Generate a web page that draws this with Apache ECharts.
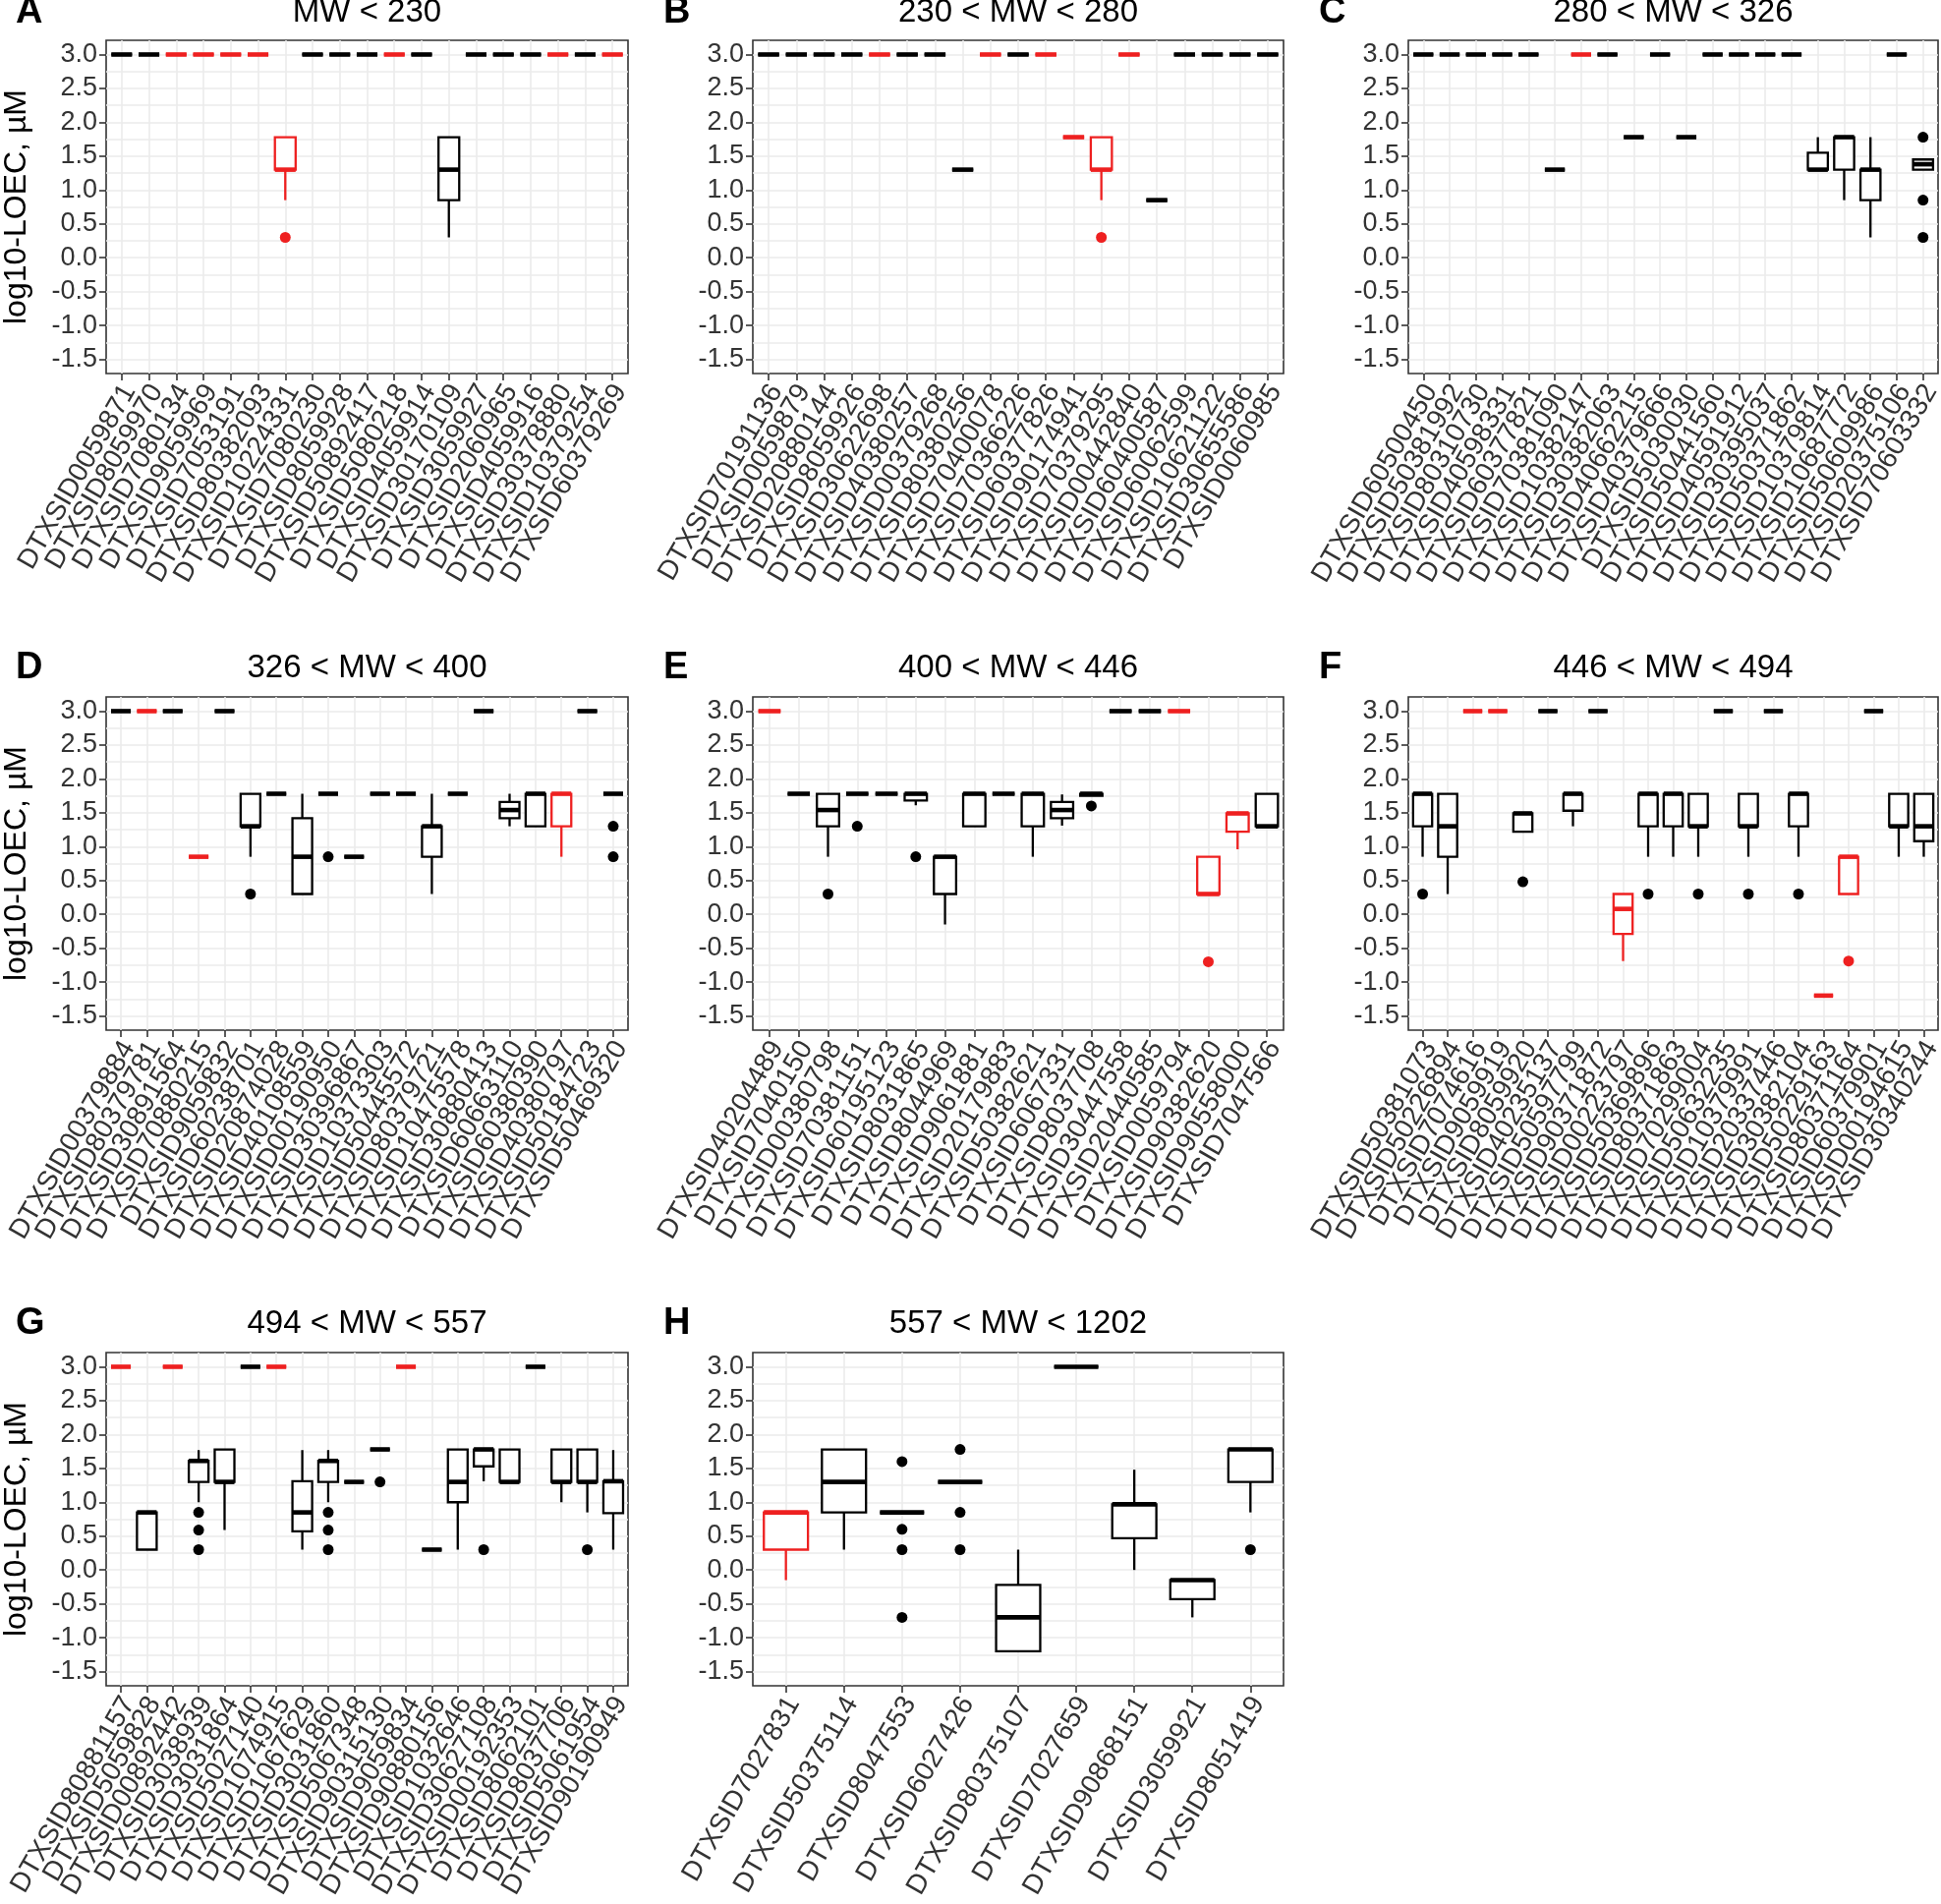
<!DOCTYPE html>
<html><head><meta charset="utf-8">
<script src="https://cdn.jsdelivr.net/npm/echarts@6/dist/echarts.min.js"></script>
<style>html,body{margin:0;padding:0;background:#fff}#c{width:1975px;height:1937px}</style>
</head><body><div id="c"></div>
<script>
// ---------- DATA ----------
// boxes: [lowerWhisker, Q1, median, Q3, upperWhisker]; red: 1 = red box; outliers: [categoryNo, value, red]
const labelsA = ["DTXSID0059871","DTXSID8059970","DTXSID7080134","DTXSID9059969","DTXSID7053191","DTXSID80382093","DTXSID10224331","DTXSID7080230","DTXSID8059928","DTXSID50892417","DTXSID5080218","DTXSID4059914","DTXSID30170109","DTXSID3059927","DTXSID2060965","DTXSID4059916","DTXSID30378880","DTXSID10379254","DTXSID60379269"];
const boxesA = [[3,3,3,3,3],[3,3,3,3,3],[3,3,3,3,3],[3,3,3,3,3],[3,3,3,3,3],[3,3,3,3,3],[0.85,1.3,1.3,1.78,1.78],[3,3,3,3,3],[3,3,3,3,3],[3,3,3,3,3],[3,3,3,3,3],[3,3,3,3,3],[0.3,0.85,1.3,1.78,1.78],[3,3,3,3,3],[3,3,3,3,3],[3,3,3,3,3],[3,3,3,3,3],[3,3,3,3,3],[3,3,3,3,3]];
const redA = [0,0,1,1,1,1,1,0,0,0,1,0,0,0,0,0,1,0,1];
const outA = [[7,0.3,1]];

const labelsB = ["DTXSID70191136","DTXSID0059879","DTXSID20880144","DTXSID8059926","DTXSID30622698","DTXSID40380257","DTXSID00379268","DTXSID80380256","DTXSID70400078","DTXSID70366226","DTXSID60377826","DTXSID90174941","DTXSID70379295","DTXSID00442840","DTXSID60400587","DTXSID60062599","DTXSID10621122","DTXSID30655586","DTXSID0060985"];
const boxesB = [[3,3,3,3,3],[3,3,3,3,3],[3,3,3,3,3],[3,3,3,3,3],[3,3,3,3,3],[3,3,3,3,3],[3,3,3,3,3],[1.3,1.3,1.3,1.3,1.3],[3,3,3,3,3],[3,3,3,3,3],[3,3,3,3,3],[1.78,1.78,1.78,1.78,1.78],[0.85,1.3,1.3,1.78,1.78],[3,3,3,3,3],[0.85,0.85,0.85,0.85,0.85],[3,3,3,3,3],[3,3,3,3,3],[3,3,3,3,3],[3,3,3,3,3]];
const redB = [0,0,0,0,1,0,0,0,1,0,1,1,1,1,0,0,0,0,0];
const outB = [[13,0.3,1]];

const labelsC = ["DTXSID60500450","DTXSID50381992","DTXSID80310730","DTXSID40598331","DTXSID60377821","DTXSID70381090","DTXSID10382147","DTXSID30382063","DTXSID40662215","DTXSID40379666","DTXSID5030030","DTXSID50441560","DTXSID40591912","DTXSID30395037","DTXSID50371862","DTXSID10379814","DTXSID10687772","DTXSID50609986","DTXSID20375106","DTXSID70603332"];
const boxesC = [[3,3,3,3,3],[3,3,3,3,3],[3,3,3,3,3],[3,3,3,3,3],[3,3,3,3,3],[1.3,1.3,1.3,1.3,1.3],[3,3,3,3,3],[3,3,3,3,3],[1.78,1.78,1.78,1.78,1.78],[3,3,3,3,3],[1.78,1.78,1.78,1.78,1.78],[3,3,3,3,3],[3,3,3,3,3],[3,3,3,3,3],[3,3,3,3,3],[1.3,1.3,1.3,1.55,1.78],[0.85,1.3,1.78,1.78,1.78],[0.3,0.85,1.3,1.3,1.78],[3,3,3,3,3],[1.3,1.3,1.38,1.45,1.45]];
const redC = [0,0,0,0,0,0,1,0,0,0,0,0,0,0,0,0,0,0,0,0];
const outC = [[20,1.78,0],[20,0.85,0],[20,0.3,0]];

const labelsD = ["DTXSID00379884","DTXSID80379781","DTXSID30891564","DTXSID70880215","DTXSID9059832","DTXSID60238701","DTXSID20874028","DTXSID40108559","DTXSID00190950","DTXSID30396867","DTXSID10373303","DTXSID50445572","DTXSID80379721","DTXSID10475578","DTXSID30880413","DTXSID60663110","DTXSID60380390","DTXSID40380797","DTXSID50184723","DTXSID50469320"];
const boxesD = [[3,3,3,3,3],[3,3,3,3,3],[3,3,3,3,3],[0.85,0.85,0.85,0.85,0.85],[3,3,3,3,3],[0.85,1.3,1.3,1.78,1.78],[1.78,1.78,1.78,1.78,1.78],[0.3,0.3,0.85,1.42,1.78],[1.78,1.78,1.78,1.78,1.78],[0.85,0.85,0.85,0.85,0.85],[1.78,1.78,1.78,1.78,1.78],[1.78,1.78,1.78,1.78,1.78],[0.3,0.85,1.3,1.3,1.78],[1.78,1.78,1.78,1.78,1.78],[3,3,3,3,3],[1.3,1.42,1.54,1.66,1.78],[1.3,1.3,1.78,1.78,1.78],[0.85,1.3,1.78,1.78,1.78],[3,3,3,3,3],[1.78,1.78,1.78,1.78,1.78]];
const redD = [0,1,0,1,0,0,0,0,0,0,0,0,0,0,0,0,0,1,0,0];
const outD = [[6,0.3,0],[9,0.85,0],[20,1.3,0],[20,0.85,0]];

const labelsE = ["DTXSID40204489","DTXSID7040150","DTXSID00380798","DTXSID70381151","DTXSID60195123","DTXSID8031865","DTXSID8044969","DTXSID9061881","DTXSID20179883","DTXSID50382621","DTXSID6067331","DTXSID8037708","DTXSID30447558","DTXSID20440585","DTXSID0059794","DTXSID90382620","DTXSID90558000","DTXSID7047566"];
const boxesE = [[3,3,3,3,3],[1.78,1.78,1.78,1.78,1.78],[0.85,1.3,1.54,1.78,1.78],[1.78,1.78,1.78,1.78,1.78],[1.78,1.78,1.78,1.78,1.78],[1.61,1.68,1.78,1.78,1.78],[-0.15,0.3,0.85,0.85,0.85],[1.3,1.3,1.78,1.78,1.78],[1.78,1.78,1.78,1.78,1.78],[0.85,1.3,1.78,1.78,1.78],[1.31,1.42,1.54,1.66,1.77],[1.75,1.75,1.78,1.78,1.78],[3,3,3,3,3],[3,3,3,3,3],[3,3,3,3,3],[0.3,0.3,0.3,0.85,0.85],[0.96,1.22,1.49,1.49,1.49],[1.3,1.3,1.3,1.78,1.78]];
const redE = [1,0,0,0,0,0,0,0,0,0,0,0,0,0,1,1,1,0];
const outE = [[3,0.3,0],[4,1.3,0],[6,0.85,0],[12,1.6,0],[16,-0.7,1]];

const labelsF = ["DTXSID50381073","DTXSID50226894","DTXSID7074616","DTXSID9059919","DTXSID8059920","DTXSID40235137","DTXSID50597799","DTXSID90371872","DTXSID00223797","DTXSID50369896","DTXSID80371863","DTXSID70299004","DTXSID50632235","DTXSID10379991","DTXSID20337446","DTXSID30382104","DTXSID50229163","DTXSID80371164","DTXSID60379901","DTXSID00194615","DTXSID30340244"];
const boxesF = [[0.85,1.3,1.78,1.78,1.78],[0.3,0.85,1.3,1.78,1.78],[3,3,3,3,3],[3,3,3,3,3],[1.22,1.22,1.49,1.49,1.49],[3,3,3,3,3],[1.3,1.53,1.78,1.78,1.78],[3,3,3,3,3],[-0.69,-0.29,0.08,0.3,0.3],[0.85,1.3,1.78,1.78,1.78],[0.85,1.3,1.78,1.78,1.78],[0.85,1.3,1.3,1.78,1.78],[3,3,3,3,3],[0.85,1.3,1.3,1.78,1.78],[3,3,3,3,3],[0.85,1.3,1.78,1.78,1.78],[-1.2,-1.2,-1.2,-1.2,-1.2],[0.3,0.3,0.85,0.85,0.85],[3,3,3,3,3],[0.85,1.3,1.3,1.78,1.78],[0.85,1.08,1.3,1.78,1.78]];
const redF = [0,0,1,1,0,0,0,0,1,0,0,0,0,0,0,0,1,1,0,0,0];
const outF = [[1,0.3,0],[5,0.48,0],[10,0.3,0],[12,0.3,0],[14,0.3,0],[16,0.3,0],[18,-0.69,1]];

const labelsG = ["DTXSID80881157","DTXSID5059828","DTXSID00892442","DTXSID3038939","DTXSID3031864","DTXSID5027140","DTXSID1074915","DTXSID1067629","DTXSID3031860","DTXSID5067348","DTXSID90315130","DTXSID9059834","DTXSID90880156","DTXSID1032646","DTXSID30627108","DTXSID00192353","DTXSID8062101","DTXSID8037706","DTXSID5061954","DTXSID90190949"];
const boxesG = [[3,3,3,3,3],[0.3,0.3,0.85,0.85,0.85],[3,3,3,3,3],[1.0,1.3,1.61,1.61,1.77],[0.59,1.3,1.3,1.78,1.78],[3,3,3,3,3],[3,3,3,3,3],[0.3,0.57,0.85,1.31,1.77],[1.0,1.3,1.61,1.61,1.77],[1.3,1.3,1.3,1.3,1.3],[1.78,1.78,1.78,1.78,1.78],[3,3,3,3,3],[0.3,0.3,0.3,0.3,0.3],[0.3,1.0,1.3,1.78,1.78],[1.31,1.53,1.78,1.78,1.78],[1.3,1.3,1.3,1.78,1.78],[3,3,3,3,3],[1.0,1.3,1.3,1.78,1.78],[0.85,1.3,1.3,1.78,1.78],[0.3,0.84,1.31,1.31,1.77]];
const redG = [1,0,1,0,0,0,1,0,0,0,0,1,0,0,0,0,0,0,0,0];
const outG = [[4,0.85,0],[4,0.59,0],[4,0.3,0],[9,0.85,0],[9,0.59,0],[9,0.3,0],[11,1.3,0],[15,0.3,0],[19,0.3,0]];

const labelsH = ["DTXSID7027831","DTXSID50375114","DTXSID8047553","DTXSID6027426","DTXSID80375107","DTXSID7027659","DTXSID90868151","DTXSID3059921","DTXSID8051419"];
const boxesH = [[-0.15,0.3,0.85,0.85,0.85],[0.3,0.85,1.3,1.78,1.78],[0.85,0.85,0.85,0.85,0.85],[1.3,1.3,1.3,1.3,1.3],[-1.2,-1.2,-0.7,-0.22,0.3],[3,3,3,3,3],[0.0,0.47,0.97,0.97,1.48],[-0.7,-0.43,-0.15,-0.15,-0.15],[0.85,1.3,1.78,1.78,1.78]];
const redH = [1,0,0,0,0,0,0,0,0];
const outH = [[3,1.6,0],[3,0.6,0],[3,0.3,0],[3,-0.7,0],[4,1.78,0],[4,0.85,0],[4,0.3,0],[9,0.3,0]];

const titles = ["MW < 230","230 < MW < 280","280 < MW < 326","326 < MW < 400","400 < MW < 446","446 < MW < 494","494 < MW < 557","557 < MW < 1202"];
const letters = ["A","B","C","D","E","F","G","H"];
const yTickValues = [-1.5,-1.0,-0.5,0.0,0.5,1.0,1.5,2.0,2.5,3.0];
const yGridValues = [-1.5,-1.25,-1.0,-0.75,-0.5,-0.25,0.0,0.25,0.5,0.75,1.0,1.25,1.5,1.75,2.0,2.25,2.5,2.75,3.0];
const yTitle = "log10-LOEC, µM";

// ---------- LAYOUT ----------
const COLS = [[108, 639], [766, 1306], [1433, 1972]];
const ROWS = [[41, 380], [709, 1048], [1376, 1715]];
const LETTER_X = [16, 675, 1342];
const TITLE_Y = [13, 680, 1347];
const YMIN = -1.71, YMAX = 3.21, XEXP = 0.57;
const RED = '#EE2020', BLACK = '#000000', GRID = '#EBEBEB', FRAME = '#333333', TXT = '#333333';
const FONT = '"Liberation Sans", Arial, Helvetica, sans-serif';
const LW = 2.3;

const panels = [
  {labels: labelsA, boxes: boxesA, red: redA, out: outA, col: 0, row: 0},
  {labels: labelsB, boxes: boxesB, red: redB, out: outB, col: 1, row: 0},
  {labels: labelsC, boxes: boxesC, red: redC, out: outC, col: 2, row: 0},
  {labels: labelsD, boxes: boxesD, red: redD, out: outD, col: 0, row: 1},
  {labels: labelsE, boxes: boxesE, red: redE, out: outE, col: 1, row: 1},
  {labels: labelsF, boxes: boxesF, red: redF, out: outF, col: 2, row: 1},
  {labels: labelsG, boxes: boxesG, red: redG, out: outG, col: 0, row: 2},
  {labels: labelsH, boxes: boxesH, red: redH, out: outH, col: 1, row: 2}
];

function renderBox(params, api) {
  const i = api.value(0);
  const lo = api.value(1), q1 = api.value(2), med = api.value(3), q3 = api.value(4), hi = api.value(5);
  const col = api.value(6) ? RED : BLACK;
  const half = api.size([1, 0])[0] * 0.38;
  const pLo = api.coord([i, lo]), pQ1 = api.coord([i, q1]), pMed = api.coord([i, med]);
  const pQ3 = api.coord([i, q3]), pHi = api.coord([i, hi]);
  const cx = pMed[0];
  const ch = [];
  if (hi > q3) ch.push({type: 'line', shape: {x1: cx, y1: pQ3[1], x2: cx, y2: pHi[1]}, style: {stroke: col, lineWidth: LW}});
  if (lo < q1) ch.push({type: 'line', shape: {x1: cx, y1: pQ1[1], x2: cx, y2: pLo[1]}, style: {stroke: col, lineWidth: LW}});
  ch.push({type: 'rect', shape: {x: cx - half, y: pQ3[1], width: 2 * half, height: pQ1[1] - pQ3[1]}, style: {fill: '#ffffff', stroke: col, lineWidth: LW}});
  ch.push({type: 'line', shape: {x1: cx - half, y1: pMed[1], x2: cx + half, y2: pMed[1]}, style: {stroke: col, lineWidth: LW * 2, lineCap: 'butt'}});
  return {type: 'group', children: ch};
}

const grids = [], xAxes = [], yAxes = [], series = [], graphics = [];
panels.forEach((p, k) => {
  const [x0, x1] = COLS[p.col], [y0, y1] = ROWS[p.row];
  const n = p.labels.length;
  const xmin = 1 - XEXP, xmax = n + XEXP;
  const idx = p.labels.map((_, i) => i + 1);
  // padding entries at both ends absorb the library's min/max label hiding
  const tickVals = [xmin].concat(idx, [xmax]);
  grids.push({left: x0, top: y0, width: x1 - x0, height: y1 - y0, show: true, backgroundColor: '#fff',
    borderColor: FRAME, borderWidth: 1.6, containLabel: false, outerBoundsMode: 'none'});
  xAxes.push({type: 'value', gridIndex: k, min: xmin, max: xmax,
    axisLine: {show: false, onZero: false},
    axisTick: {show: true, customValues: tickVals, length: 7, lineStyle: {color: FRAME, width: 1.6}},
    axisLabel: {customValues: tickVals,
      formatter: v => { const j = Math.round(v); return (Math.abs(v - j) < 1e-6 && j >= 1 && j <= n) ? p.labels[j - 1] : ' '; },
      rotate: 60, fontSize: 28, lineHeight: 18,
      color: TXT, fontFamily: FONT, margin: 9, align: 'right', verticalAlign: 'top', showMinLabel: false, showMaxLabel: false},
    splitLine: {show: true, showMinLine: false, showMaxLine: false, lineStyle: {color: GRID, width: 1.6}}});
  yAxes.push({type: 'value', gridIndex: k, min: YMIN, max: YMAX,
    axisLine: {show: false, onZero: false}, axisTick: {show: false, customValues: yGridValues}, axisLabel: {show: false},
    splitLine: {show: true, lineStyle: {color: GRID, width: 1.6}}});
  yAxes.push({type: 'value', gridIndex: k, min: YMIN, max: YMAX, position: 'left',
    axisLine: {show: false, onZero: false},
    axisTick: {show: true, customValues: yTickValues, length: 7, lineStyle: {color: FRAME, width: 1.6}},
    axisLabel: {customValues: yTickValues, formatter: v => v.toFixed(1), fontSize: 27, color: TXT, fontFamily: FONT,
      margin: 9, showMinLabel: true, showMaxLabel: true},
    splitLine: {show: false}});
  series.push({type: 'custom', xAxisIndex: k, yAxisIndex: 2 * k + 1, renderItem: renderBox, silent: true,
    encode: {x: 0, y: [1, 2, 3, 4, 5]},
    data: p.boxes.map((b, i) => [i + 1, b[0], b[1], b[2], b[3], b[4], p.red[i]]), z: 3});
  series.push({type: 'scatter', xAxisIndex: k, yAxisIndex: 2 * k + 1, silent: true, symbolSize: 11, z: 4,
    itemStyle: {color: prm => prm.data[2] ? RED : BLACK, opacity: 1},
    data: p.out});
  const cx = (x0 + x1) / 2;
  graphics.push({type: 'text', x: cx, y: TITLE_Y[p.row], style: {text: titles[k], fontSize: 33, fontFamily: FONT,
    fill: '#000', align: 'center', verticalAlign: 'middle', textAlign: 'center', textVerticalAlign: 'middle'}});
  graphics.push({type: 'text', x: LETTER_X[p.col], y: TITLE_Y[p.row], style: {text: letters[k], fontSize: 38, fontWeight: 'bold',
    fontFamily: FONT, fill: '#000', align: 'left', verticalAlign: 'middle', textAlign: 'left', textVerticalAlign: 'middle'}});
  if (p.col === 0) {
    graphics.push({type: 'text', x: 17, y: (y0 + y1) / 2, rotation: Math.PI / 2, style: {text: yTitle, fontSize: 32,
      fontFamily: FONT, fill: '#000', align: 'center', verticalAlign: 'middle', textAlign: 'center', textVerticalAlign: 'middle'}});
  }
});

const chart = echarts.init(document.getElementById('c'), null, {renderer: 'canvas'});
chart.setOption({
  backgroundColor: '#fff', animation: false,
  textStyle: {fontFamily: FONT},
  grid: grids, xAxis: xAxes, yAxis: yAxes, series: series, graphic: graphics
});
</script></body></html>
